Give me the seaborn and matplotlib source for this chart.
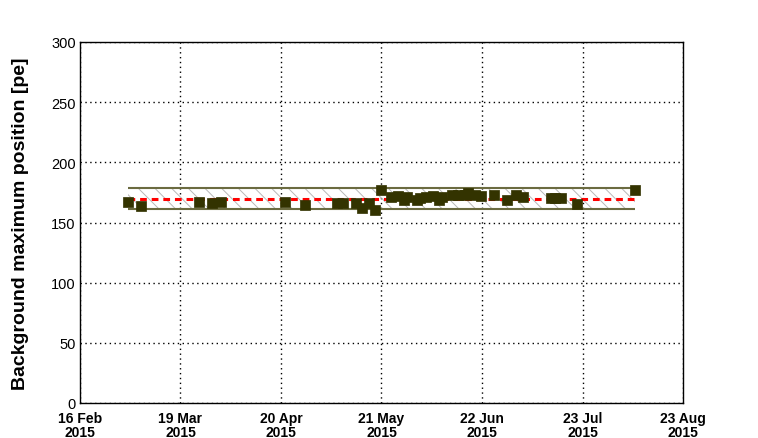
import numpy as np
import pandas as pd
import matplotlib
matplotlib.use("Agg")
from matplotlib import pyplot as plt
import matplotlib.dates as mdates
from matplotlib.ticker import MultipleLocator, AutoMinorLocator
import seaborn as sns

# measurement dates and background maximum position [pe]
dates = ["2015-03-03", "2015-03-07", "2015-03-25", "2015-03-29", "2015-04-01",
         "2015-04-21", "2015-04-27", "2015-05-07", "2015-05-09", "2015-05-13",
         "2015-05-15", "2015-05-17", "2015-05-19", "2015-05-21", "2015-05-24",
         "2015-05-26", "2015-05-28", "2015-05-29", "2015-06-01", "2015-06-02",
         "2015-06-04", "2015-06-06", "2015-06-08", "2015-06-09", "2015-06-12",
         "2015-06-14", "2015-06-16", "2015-06-17", "2015-06-19", "2015-06-21",
         "2015-06-25", "2015-06-29", "2015-07-02", "2015-07-04", "2015-07-13",
         "2015-07-14", "2015-07-16", "2015-07-21", "2015-08-08"]
positions = [167.0, 163.8, 167.0, 165.8, 167.0,
             167.2, 164.7, 165.8, 166.2, 166.5,
             162.3, 166.3, 160.5, 177.0, 171.0,
             172.0, 168.5, 171.3, 168.7, 170.4,
             171.3, 172.0, 168.7, 171.0, 172.7,
             172.8, 173.0, 174.4, 172.8, 172.0,
             172.8, 168.9, 172.8, 171.0, 170.6,
             170.6, 170.6, 165.7, 176.6]

band_mean = 169.5
band_low = 161.2
band_high = 178.7

tick_labels = ["16 Feb\n2015", "19 Mar\n2015", "20 Apr\n2015", "21 May\n2015",
               "22 Jun\n2015", "23 Jul\n2015", "23 Aug\n2015"]
x_start, x_end = "2015-02-16", "2015-08-23"

df = pd.DataFrame({"date": pd.to_datetime(dates), "pos": positions})

sns.set_style("white")
plt.rcParams['font.family'] = ['Liberation Sans', 'DejaVu Sans']
plt.rcParams['hatch.linewidth'] = 0.7

fig = plt.figure(figsize=(7.58, 4.39), dpi=100)
ax = fig.add_axes([80/758, 35/439, 603/758, 361/439])

# band (mean +- spread) with hatch
band_x = [df["date"].min(), df["date"].max()]
ax.fill_between(band_x, band_low, band_high, facecolor='none',
                edgecolor='#b8b8b8', hatch='\\\\', linewidth=0, zorder=1)
ax.hlines([band_low, band_high], band_x[0], band_x[1], colors='#6b6b40', linewidth=1.5, zorder=2)
ax.hlines(band_mean, band_x[0], band_x[1], colors='red', linewidth=2.2,
          linestyles=(0, (2.2, 1.6)), zorder=3)

sns.scatterplot(data=df, x="date", y="pos", marker='s', s=55, color='#333300',
                edgecolor='#333300', linewidth=0.5, ax=ax, zorder=4)

x0 = mdates.date2num(pd.Timestamp(x_start))
x1 = mdates.date2num(pd.Timestamp(x_end))
ax.set_xlim(x0, x1)
ax.set_ylim(0, 300)
ax.set_xticks(np.linspace(x0, x1, len(tick_labels)))
ax.set_xticklabels(tick_labels, fontweight='bold', fontsize=10, linespacing=1.05)
ax.xaxis.set_minor_locator(AutoMinorLocator(5))
ax.yaxis.set_major_locator(MultipleLocator(50))
ax.yaxis.set_minor_locator(MultipleLocator(10))
ax.tick_params(axis='both', which='major', direction='in', length=8, width=1,
               colors='black', labelcolor='black')
ax.tick_params(axis='both', which='minor', direction='in', length=4, width=1, colors='black')
ax.tick_params(axis='y', labelsize=10.5, pad=3)
ax.tick_params(axis='x', pad=5.5)
ax.grid(True, which='major', linestyle=(0, (1, 2.5)), color='black', linewidth=1)

for s in ax.spines.values():
    s.set_color('black')
    s.set_linewidth(1)

ax.set_xlabel("")
ax.set_ylabel("Background maximum position [pe]", fontsize=14, fontweight='bold',
              color='black', labelpad=16)

fig.savefig("out.png", dpi=100)
